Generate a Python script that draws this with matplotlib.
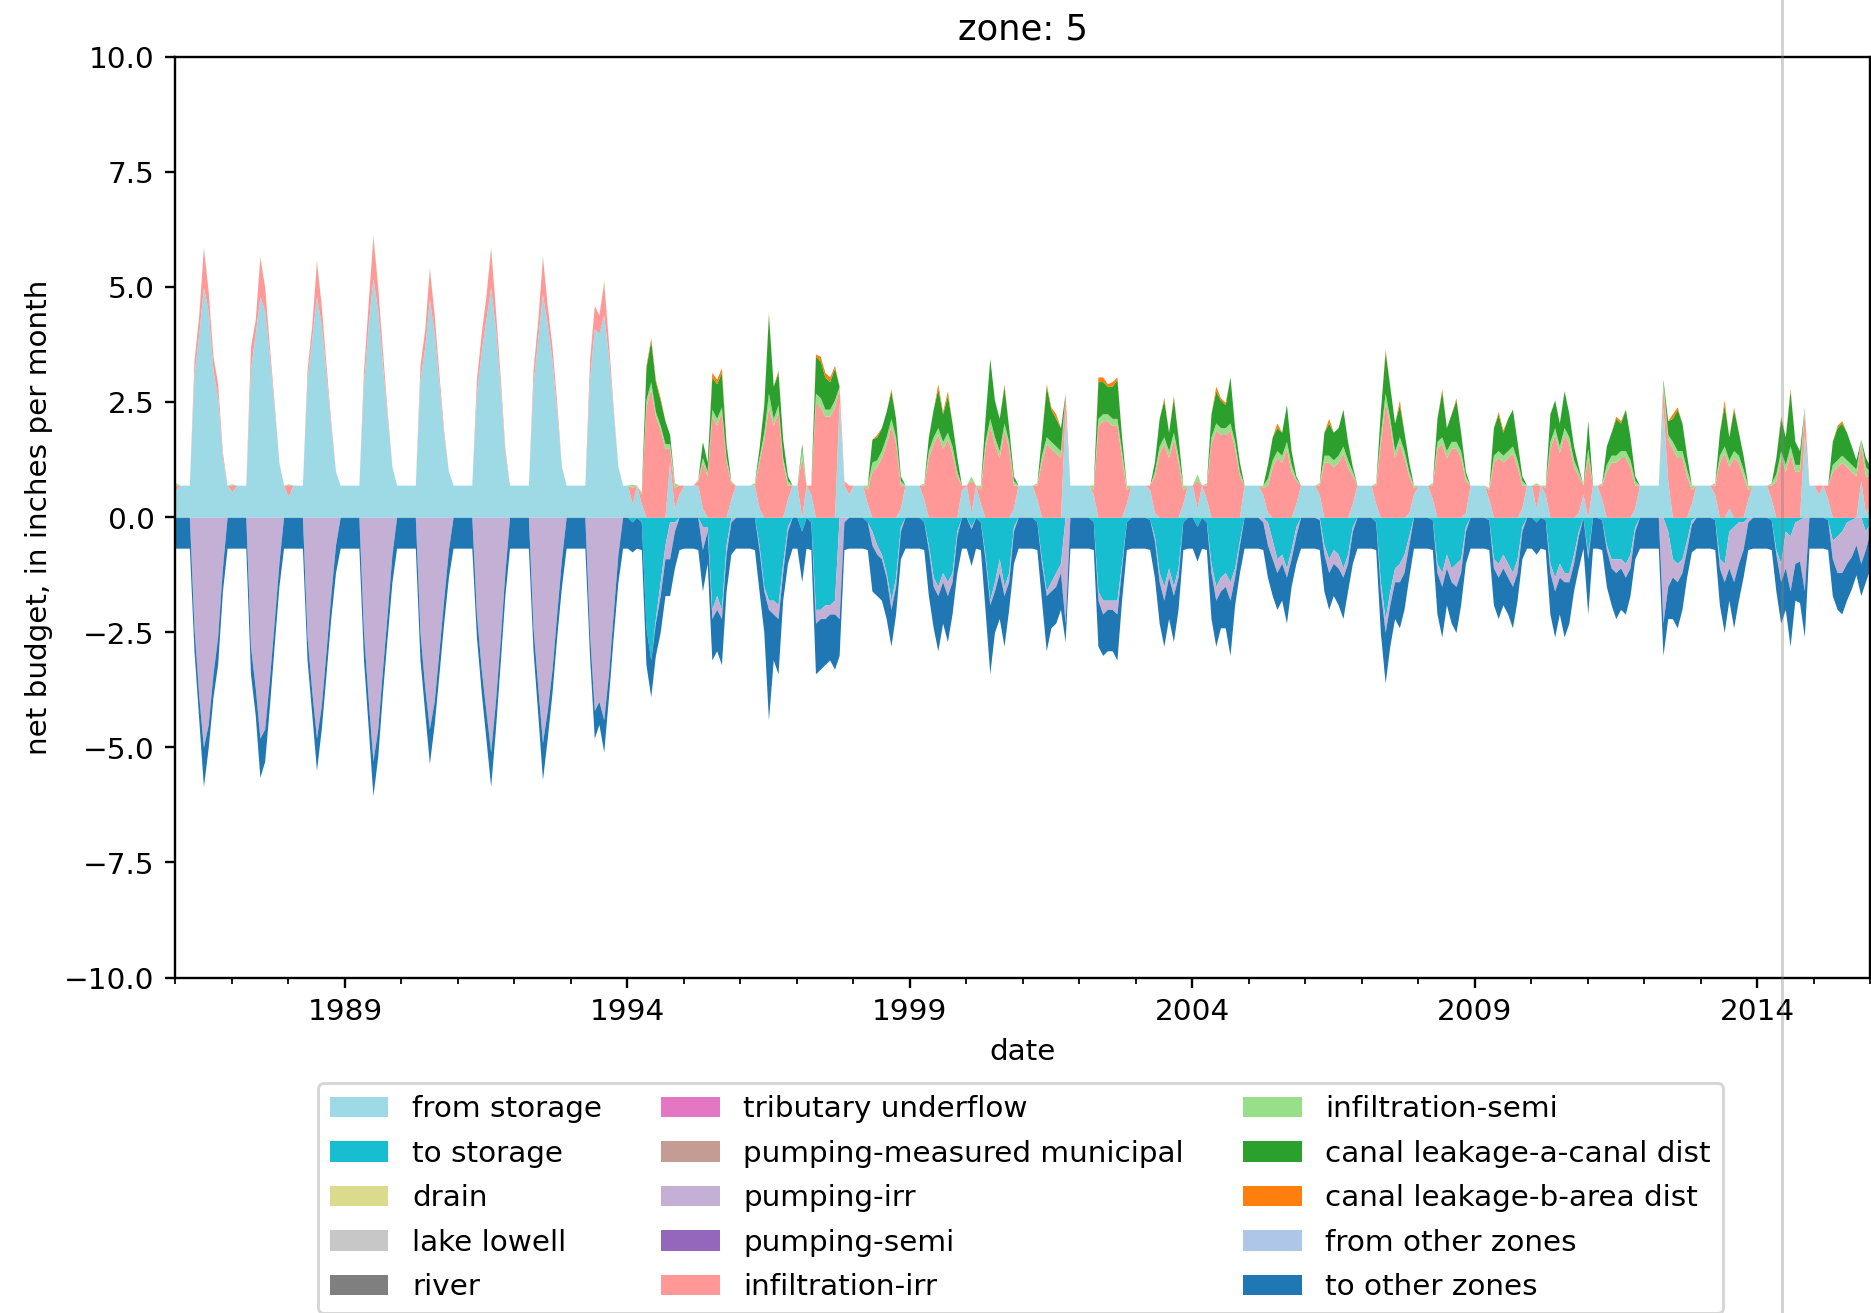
import matplotlib
matplotlib.use("Agg")
import matplotlib.pyplot as plt
import matplotlib.dates as mdates
from matplotlib.lines import Line2D
import numpy as np
import pandas as pd

# zone 5 monthly budget terms, inches per month
# one row per year, Jan-Dec, 1986-2015, plus Jan 2016
from_storage = [
    [0.6, 0.7, 0.7, 0.7, 3.1, 4.0, 5.0, 4.5, 3.2, 2.6, 1.3, 0.7],
    [0.55, 0.7, 0.7, 0.7, 3.2, 4.0, 4.8, 4.5, 3.5, 2.4, 1.2, 0.7],
    [0.45, 0.7, 0.7, 0.7, 3.0, 3.9, 4.8, 4.2, 3.1, 2.0, 1.0, 0.7],
    [0.7, 0.7, 0.7, 0.7, 2.9, 4.2, 5.2, 4.5, 3.3, 2.2, 1.1, 0.7],
    [0.7, 0.7, 0.7, 0.7, 3.0, 3.7, 4.75, 4.0, 2.9, 1.8, 1.0, 0.7],
    [0.7, 0.7, 0.7, 0.7, 2.7, 3.6, 4.3, 5.0, 4.1, 2.9, 1.4, 0.7],
    [0.7, 0.7, 0.7, 0.7, 2.9, 3.9, 4.85, 4.2, 3.4, 2.3, 1.1, 0.7],
    [0.7, 0.7, 0.7, 0.7, 3.0, 4.1, 4.0, 4.4, 3.5, 2.3, 1.1, 0.7],
    [0.7, 0.3, 0.7, 0.3, 0, 0, 0, 0, 0, 1.2, 0.2, 0.5],
    [0.7, 0.7, 0.7, 0.7, 0.2, 0, 0, 0, 0, 0, 0.4, 0.7],
    [0.7, 0.7, 0.7, 0.7, 0.2, 0, 0, 0, 0, 0, 0.4, 0.7],
    [0.7, 0, 0.7, 0.5, 0, 0, 0, 0, 0, 2.5, 0.7, 0.5],
    [0.7, 0.7, 0.7, 0.3, 0, 0, 0, 0, 0, 0, 0.2, 0.7],
    [0.7, 0.7, 0.7, 0.4, 0, 0, 0, 0, 0, 0, 0, 0.6],
    [0.7, 0.1, 0.7, 0.3, 0, 0, 0, 0, 0, 0, 0.2, 0.7],
    [0.7, 0.7, 0.7, 0.4, 0, 0, 0, 0, 0, 2.3, 0.7, 0.7],
    [0.7, 0.7, 0.7, 0.5, 0, 0, 0, 0, 0, 0, 0.3, 0.7],
    [0.7, 0.7, 0.7, 0.6, 0.1, 0, 0, 0, 0, 0, 0.3, 0.7],
    [0.7, 0.2, 0.7, 0.4, 0, 0, 0, 0, 0, 0, 0, 0.7],
    [0.7, 0.7, 0.7, 0.5, 0.1, 0, 0, 0, 0, 0, 0.3, 0.7],
    [0.7, 0.7, 0.7, 0.5, 0, 0, 0, 0, 0, 0, 0.3, 0.7],
    [0.7, 0.7, 0.7, 0.3, 0, 0, 0, 0, 0, 0, 0.1, 0.5],
    [0.7, 0.7, 0.7, 0.4, 0, 0, 0, 0, 0, 0, 0.1, 0.7],
    [0.7, 0.7, 0.7, 0.4, 0, 0, 0, 0, 0, 0, 0.2, 0.7],
    [0.7, 0.2, 0.7, 0.5, 0, 0, 0, 0, 0, 0, 0.1, 0.5],
    [0, 0.7, 0.7, 0.4, 0, 0, 0, 0, 0, 0, 0.2, 0.7],
    [0.7, 0.7, 0.7, 0.7, 2.4, 0.8, 0, 0, 0, 0, 0.3, 0.7],
    [0.7, 0.7, 0.7, 0.5, 0, 0, 0.2, 0, 0, 0, 0.4, 0.7],
    [0.7, 0.7, 0.7, 0.4, 0, 0, 0, 0, 0, 0, 1.8, 0.7],
    [0.7, 0.5, 0.7, 0.4, 0, 0, 0, 0, 0, 0, 0.8, 0.1],
    [0.3],
]

infiltration_irr = [
    [0.1, 0, 0, 0, 0.3, 0.4, 0.85, 0.4, 0.3, 0.3, 0.1, 0],
    [0.15, 0, 0, 0, 0.5, 0.3, 0.85, 0.5, 0.2, 0.1, 0, 0],
    [0.25, 0, 0, 0, 0.2, 0.3, 0.75, 0.4, 0.2, 0.1, 0, 0],
    [0, 0, 0, 0, 0.3, 0.5, 0.9, 0.5, 0.3, 0.1, 0, 0],
    [0, 0, 0, 0, 0.3, 0.4, 0.65, 0.4, 0.2, 0.1, 0, 0],
    [0, 0, 0, 0, 0.3, 0.4, 0.5, 0.85, 0.4, 0.2, 0.1, 0],
    [0, 0, 0, 0, 0.3, 0.4, 0.8, 0.4, 0.3, 0.2, 0, 0],
    [0, 0, 0, 0, 0.4, 0.5, 0.4, 0.7, 0.3, 0.1, 0, 0],
    [0, 0.35, 0, 0.2, 2.4, 2.8, 2.2, 1.9, 1.5, 0.3, 0.45, 0.2],
    [0, 0, 0, 0.1, 1.0, 0.9, 2.2, 2.0, 2.3, 1.2, 0.35, 0],
    [0, 0, 0, 0, 1.0, 1.7, 2.4, 2.0, 2.3, 1.2, 0.3, 0],
    [0, 1.3, 0, 0.2, 2.5, 2.4, 2.2, 2.2, 2.4, 0.3, 0.1, 0.2],
    [0, 0, 0, 0.3, 1.0, 1.1, 1.3, 1.6, 2.0, 1.6, 0.5, 0],
    [0, 0, 0, 0.3, 1.3, 1.6, 1.8, 1.5, 1.7, 1.4, 0.9, 0.1],
    [0, 0.7, 0, 0.3, 1.5, 2.0, 1.6, 1.3, 1.9, 1.5, 0.5, 0],
    [0, 0, 0, 0.3, 1.2, 1.6, 1.5, 1.4, 1.3, 0.4, 0, 0],
    [0, 0, 0, 0.1, 2.0, 2.1, 2.1, 2.0, 2.0, 1.3, 0.3, 0],
    [0, 0, 0, 0.1, 0.8, 1.4, 1.6, 1.3, 1.7, 1.2, 0.3, 0],
    [0, 0.6, 0, 0.3, 1.6, 1.9, 1.8, 1.8, 1.9, 1.5, 0.9, 0],
    [0, 0, 0, 0.15, 0.6, 1.1, 1.3, 1.2, 1.5, 1.0, 0.5, 0],
    [0, 0, 0, 0.2, 1.2, 1.2, 1.1, 1.2, 1.4, 1.1, 0.6, 0],
    [0, 0, 0, 0.4, 1.6, 2.5, 2.0, 1.3, 1.6, 1.3, 0.8, 0.15],
    [0, 0, 0, 0.3, 1.5, 1.6, 1.3, 1.5, 1.5, 1.3, 0.7, 0],
    [0, 0, 0, 0.2, 1.2, 1.3, 1.2, 1.3, 1.4, 1.1, 0.5, 0],
    [0, 0.5, 0, 0.15, 1.5, 1.8, 1.4, 1.8, 1.6, 1.1, 0.8, 0.2],
    [1.3, 0, 0, 0.3, 1.0, 1.2, 1.2, 1.3, 1.3, 1.1, 0.5, 0],
    [0, 0, 0, 0, 0.4, 0.9, 1.5, 1.3, 1.3, 0.9, 0.3, 0],
    [0, 0, 0, 0.2, 1.2, 1.4, 0.9, 1.3, 1.2, 0.9, 0.2, 0],
    [0, 0, 0, 0.3, 0.8, 1.3, 1.0, 1.4, 1.0, 1.0, 0.5, 0],
    [0, 0.2, 0, 0.3, 1.0, 1.1, 1.2, 1.1, 1.0, 0.9, 0.8, 0.8],
    [0.6],
]

infiltration_semi = [
    [0.05, 0, 0, 0, 0, 0, 0.03, 0, 0, 0, 0, 0],
    [0.03, 0, 0, 0, 0, 0, 0.03, 0, 0, 0, 0, 0],
    [0.03, 0, 0, 0, 0, 0, 0.05, 0, 0, 0, 0, 0],
    [0, 0, 0, 0, 0, 0, 0.03, 0, 0, 0, 0, 0],
    [0, 0, 0, 0, 0, 0, 0.05, 0, 0, 0, 0, 0],
    [0, 0, 0, 0, 0, 0, 0, 0.03, 0, 0, 0, 0],
    [0, 0, 0, 0, 0, 0, 0.03, 0, 0, 0, 0, 0],
    [0, 0, 0, 0, 0, 0, 0, 0.05, 0, 0, 0, 0],
    [0, 0.07, 0, 0.05, 0.15, 0.15, 0.1, 0.1, 0.1, 0.1, 0.1, 0],
    [0, 0, 0, 0.03, 0.1, 0.1, 0.15, 0.15, 0.1, 0.1, 0.05, 0],
    [0, 0, 0, 0.05, 0.1, 0.15, 0.3, 0.15, 0.15, 0.1, 0.1, 0],
    [0, 0.2, 0, 0, 0.2, 0.2, 0.15, 0.15, 0.15, 0.05, 0, 0],
    [0, 0, 0, 0.1, 0.2, 0.15, 0.15, 0.15, 0.15, 0.15, 0.1, 0],
    [0, 0, 0, 0.05, 0.15, 0.15, 0.15, 0.15, 0.15, 0.15, 0.1, 0],
    [0, 0.1, 0, 0.1, 0.15, 0.15, 0.15, 0.15, 0.15, 0.15, 0.1, 0],
    [0, 0, 0, 0.05, 0.15, 0.15, 0.15, 0.15, 0.15, 0, 0, 0],
    [0, 0, 0, 0.1, 0.15, 0.15, 0.15, 0.15, 0.15, 0.15, 0.1, 0],
    [0, 0, 0, 0, 0.1, 0.15, 0.15, 0.15, 0.15, 0.15, 0.1, 0],
    [0, 0.15, 0, 0.05, 0.15, 0.15, 0.15, 0.15, 0.15, 0.15, 0.1, 0],
    [0, 0, 0, 0.05, 0.15, 0.15, 0.15, 0.15, 0.15, 0.15, 0.05, 0],
    [0, 0, 0, 0.05, 0.15, 0.15, 0.15, 0.15, 0.15, 0.15, 0.1, 0],
    [0, 0, 0, 0.05, 0.2, 0.2, 0.15, 0.15, 0.15, 0.15, 0.1, 0.05],
    [0, 0, 0, 0.05, 0.15, 0.15, 0.15, 0.15, 0.15, 0.15, 0.1, 0],
    [0, 0, 0, 0.05, 0.15, 0.15, 0.15, 0.15, 0.15, 0.15, 0.1, 0],
    [0, 0.05, 0, 0.05, 0.15, 0.15, 0.15, 0.15, 0.15, 0.15, 0.1, 0],
    [0.2, 0, 0, 0.05, 0.15, 0.15, 0.15, 0.15, 0.15, 0.15, 0.1, 0],
    [0, 0, 0, 0, 0.15, 0.1, 0.15, 0.15, 0.15, 0.15, 0.1, 0],
    [0, 0, 0, 0.05, 0.15, 0.15, 0.15, 0.15, 0.15, 0.15, 0.1, 0],
    [0, 0, 0, 0.05, 0.15, 0.15, 0.15, 0.15, 0.15, 0.15, 0.1, 0],
    [0, 0, 0, 0, 0.15, 0.15, 0.15, 0.15, 0.15, 0.15, 0.1, 0.2],
    [0.1],
]

canal_leakage_a = [
    [0] * 12, [0] * 12, [0] * 12, [0] * 12,
    [0] * 12, [0] * 12, [0] * 12, [0] * 12,
    [0, 0, 0, 0, 0.7, 0.9, 0.65, 0.55, 0.5, 0.2, 0, 0],
    [0, 0, 0, 0, 0.35, 0.2, 0.7, 0.75, 0.75, 0.3, 0, 0],
    [0, 0, 0, 0, 0.2, 0.6, 1.7, 0.7, 0.7, 0.4, 0.1, 0],
    [0, 0.1, 0, 0, 0.8, 0.8, 0.7, 0.6, 0.7, 0, 0, 0],
    [0, 0, 0, 0, 0.5, 0.5, 0.5, 0.55, 0.6, 0.4, 0.1, 0],
    [0, 0, 0, 0, 0.3, 0.6, 0.85, 0.6, 0.8, 0.5, 0.3, 0],
    [0, 0, 0, 0, 0.5, 1.3, 0.8, 0.7, 0.8, 0.3, 0.1, 0],
    [0, 0, 0, 0, 0.4, 1.1, 0.7, 0.6, 0.5, 0, 0, 0],
    [0, 0, 0, 0, 0.8, 0.7, 0.6, 0.7, 0.85, 0.3, 0, 0],
    [0, 0, 0, 0, 0.2, 0.6, 0.8, 0.4, 0.75, 0.4, 0, 0],
    [0, 0, 0, 0, 0.5, 0.7, 0.6, 0.5, 1.0, 0.3, 0.2, 0],
    [0, 0, 0, 0, 0.3, 0.5, 0.5, 0.5, 0.8, 0.3, 0.05, 0],
    [0, 0, 0, 0, 0.5, 0.7, 0.6, 0.6, 0.8, 0.4, 0.1, 0],
    [0, 0, 0, 0, 0.5, 0.9, 0.7, 0.6, 0.7, 0.4, 0.2, 0],
    [0, 0, 0, 0, 0.5, 1.0, 0.5, 0.6, 0.9, 0.4, 0.1, 0],
    [0, 0, 0, 0, 0.6, 0.8, 0.5, 0.7, 0.8, 0.4, 0.1, 0],
    [0, 0, 0, 0, 0.6, 0.6, 0.5, 0.8, 0.5, 0.3, 0.1, 0],
    [0.6, 0, 0, 0, 0.4, 0.5, 0.8, 0.6, 0.9, 0.5, 0.1, 0],
    [0, 0, 0, 0, 0.05, 0.3, 0.5, 0.9, 0.6, 0.3, 0, 0],
    [0, 0, 0, 0, 0.5, 0.9, 0.5, 0.9, 0.5, 0.3, 0, 0],
    [0, 0, 0, 0, 0.35, 0.7, 0.6, 1.2, 0.5, 0.3, 0, 0],
    [0, 0, 0, 0, 0.5, 0.7, 0.7, 0.6, 0.4, 0.2, 0, 0.2],
    [0.1],
]

canal_leakage_b = [
    [0] * 12, [0] * 12, [0] * 12, [0] * 12,
    [0] * 12, [0] * 12, [0] * 12, [0] * 12,
    [0, 0, 0, 0, 0.05, 0.05, 0.05, 0.05, 0, 0, 0, 0],
    [0, 0, 0, 0, 0, 0, 0.1, 0.1, 0.1, 0, 0, 0],
    [0, 0, 0, 0, 0, 0, 0.05, 0, 0.05, 0, 0, 0],
    [0, 0, 0, 0, 0.05, 0.1, 0.1, 0.1, 0.05, 0, 0, 0],
    [0, 0, 0, 0, 0, 0.05, 0, 0, 0.05, 0, 0, 0],
    [0, 0, 0, 0, 0, 0, 0.1, 0.05, 0.1, 0, 0, 0],
    [0, 0, 0, 0, 0, 0, 0, 0, 0.05, 0, 0, 0],
    [0, 0, 0, 0, 0, 0.05, 0.05, 0.1, 0, 0, 0, 0],
    [0, 0, 0, 0, 0.1, 0.1, 0.05, 0.1, 0.05, 0, 0, 0],
    [0, 0, 0, 0, 0, 0, 0.05, 0, 0.05, 0, 0, 0],
    [0, 0, 0, 0, 0, 0.1, 0.05, 0.05, 0, 0, 0, 0],
    [0, 0, 0, 0, 0, 0, 0.1, 0, 0, 0, 0, 0],
    [0, 0, 0, 0, 0, 0.1, 0, 0, 0, 0, 0, 0],
    [0, 0, 0, 0, 0, 0.05, 0, 0, 0.1, 0, 0, 0],
    [0, 0, 0, 0, 0, 0.05, 0, 0, 0.05, 0, 0, 0],
    [0, 0, 0, 0, 0, 0.05, 0.05, 0, 0, 0, 0, 0],
    [0] * 12,
    [0, 0, 0, 0, 0, 0, 0.05, 0.05, 0, 0, 0, 0],
    [0, 0, 0, 0, 0, 0, 0.1, 0.05, 0, 0, 0, 0],
    [0, 0, 0, 0, 0, 0.1, 0, 0.05, 0, 0, 0, 0],
    [0, 0, 0, 0, 0, 0.05, 0, 0.05, 0, 0, 0, 0],
    [0, 0, 0, 0, 0, 0.05, 0.05, 0, 0, 0, 0, 0],
    [0],
]

to_storage = [
    [0] * 12, [0] * 12, [0] * 12, [0] * 12,
    [0] * 12, [0] * 12, [0] * 12, [0] * 12,
    [0, -0.1, 0, -0.1, -2.4, -3.1, -2.2, -1.4, -0.6, -0.1, -0.1, 0],
    [0, 0, 0, 0, -0.2, -0.2, -2.0, -1.7, -2.0, -0.6, 0, 0],
    [0, 0, 0, 0, -0.6, -1.5, -1.8, -1.8, -1.9, -1.0, -0.2, 0],
    [0, -0.3, 0, -0.1, -2.0, -2.0, -1.9, -1.9, -1.8, 0, 0, 0],
    [0, 0, 0, -0.1, -0.3, -0.6, -0.8, -1.2, -1.8, -1.3, -0.2, 0],
    [0, 0, 0, -0.1, -0.6, -1.3, -1.5, -1.2, -1.4, -1.2, -0.3, 0],
    [0, -0.2, 0, -0.1, -0.8, -1.8, -1.4, -0.9, -1.5, -1.2, -0.2, 0],
    [0, 0, 0, -0.1, -0.9, -1.6, -1.4, -1.2, -1.0, 0, 0, 0],
    [0, 0, 0, -0.1, -1.6, -1.8, -1.8, -1.8, -1.8, -1.0, -0.1, 0],
    [0, 0, 0, -0.05, -0.4, -1.2, -1.5, -1.1, -1.5, -1.1, -0.1, 0],
    [0, -0.2, 0, -0.1, -1.0, -1.5, -1.3, -1.2, -1.4, -1.1, -0.5, 0],
    [0, 0, 0, 0, -0.1, -0.5, -0.9, -0.8, -1.1, -0.7, -0.2, 0],
    [0, 0, 0, 0, -0.6, -0.9, -0.7, -0.8, -1.1, -0.8, -0.2, 0],
    [0, 0, 0, -0.1, -1.4, -2.2, -1.6, -1.1, -1.0, -0.8, -0.4, 0],
    [0, 0, 0, -0.05, -1.0, -1.2, -0.8, -1.1, -1.0, -0.9, -0.2, 0],
    [0, 0, 0, -0.05, -0.9, -1.0, -0.8, -1.0, -1.2, -0.9, -0.2, 0],
    [0, -0.1, 0, -0.05, -1.0, -1.3, -1.0, -1.2, -1.2, -0.8, -0.3, 0],
    [-0.8, 0, 0, -0.05, -0.6, -0.9, -0.9, -0.9, -1.0, -0.8, -0.2, 0],
    [0, 0, 0, 0, 0, -0.3, -0.9, -1.0, -0.9, -0.5, -0.05, 0],
    [0, 0, 0, -0.05, -0.9, -1.0, -0.3, -0.2, -0.1, -0.1, 0, 0],
    [0, 0, 0, -0.05, -0.7, -1.0, -0.3, -0.4, -0.1, -0.05, 0, 0],
    [0, 0, 0, -0.05, -0.5, -0.4, -0.3, -0.1, -0.05, 0, 0, -0.3],
    [-0.1],
]

pumping_irr = [
    [0, 0, 0, 0, -2.4, -3.9, -5.0, -4.5, -3.4, -2.6, -1.1, 0],
    [0, 0, 0, 0, -2.8, -3.7, -4.8, -4.6, -3.5, -2.3, -1.0, 0],
    [0, 0, 0, 0, -2.6, -3.8, -4.8, -4.1, -2.9, -1.7, -0.6, 0],
    [0, 0, 0, 0, -2.5, -4.0, -5.3, -4.6, -3.3, -2.1, -0.8, 0],
    [0, 0, 0, 0, -2.5, -3.7, -4.6, -4.0, -2.9, -1.8, -0.7, 0],
    [0, 0, 0, 0, -2.1, -3.3, -4.2, -5.1, -4.0, -2.7, -1.2, 0],
    [0, 0, 0, 0, -2.4, -3.7, -4.9, -4.2, -3.3, -2.1, -0.9, 0],
    [0, 0, 0, 0, -2.5, -4.2, -4.0, -4.4, -3.4, -2.1, -0.8, 0],
    [0, 0, 0, 0, 0, 0, -0.1, -0.3, -0.3, -0.8, -0.2, 0],
    [0, 0, 0, 0, -0.5, -0.1, -0.2, -0.3, -0.2, -0.2, -0.1, 0],
    [0, 0, 0, 0, -0.1, -0.1, -0.2, -0.3, -0.3, -0.2, -0.1, 0],
    [0, 0, 0, 0, -0.3, -0.2, -0.3, -0.2, -0.3, -2.2, -0.1, 0],
    [0, 0, 0, 0, -0.3, -0.2, -0.1, -0.1, -0.2, -0.2, -0.1, 0],
    [0, 0, 0, 0, -0.1, -0.2, -0.2, -0.2, -0.3, -0.2, -0.1, 0],
    [0, -0.05, 0, 0, -0.1, -0.1, -0.2, -0.3, -0.2, -0.2, -0.1, 0],
    [0, 0, 0, 0, -0.1, -0.1, -0.2, -0.3, -0.2, -2.3, 0, 0],
    [0, 0, 0, 0, -0.2, -0.3, -0.2, -0.2, -0.3, -0.1, 0, 0],
    [0, 0, 0, 0, -0.1, -0.2, -0.3, -0.2, -0.2, -0.2, 0, 0],
    [0, 0, 0, 0, -0.2, -0.3, -0.3, -0.3, -0.4, -0.2, -0.1, 0],
    [0, 0, 0, -0.1, -0.5, -0.4, -0.3, -0.2, -0.2, -0.2, -0.2, 0],
    [0, 0, 0, -0.05, -0.2, -0.3, -0.3, -0.3, -0.2, -0.2, -0.1, 0],
    [0, 0, 0, 0, -0.2, -0.3, -0.3, -0.3, -0.4, -0.4, -0.2, 0],
    [0, 0, 0, 0, -0.2, -0.3, -0.3, -0.3, -0.5, -0.3, -0.1, 0],
    [0, 0, 0, 0, -0.2, -0.3, -0.3, -0.3, -0.3, -0.3, -0.1, 0],
    [0, 0, 0, 0, -0.2, -0.3, -0.3, -0.2, -0.2, -0.2, -0.1, 0],
    [-0.1, 0, 0, 0, -0.1, -0.2, -0.3, -0.2, -0.3, -0.3, -0.1, 0],
    [0, 0, 0, 0, -2.3, -1.2, -0.4, -0.4, -0.3, -0.2, -0.1, 0],
    [0, 0, 0, 0, -0.2, -0.4, -0.8, -1.2, -0.9, -0.6, -0.1, 0],
    [0, 0, 0, 0, -0.1, -0.4, -0.8, -1.2, -0.9, -0.9, -1.6, 0],
    [0, 0, 0, 0, -0.4, -0.8, -0.9, -0.9, -0.8, -0.6, -1.0, -0.4],
    [-0.2],
]

to_other_zones = [
    [-0.67, -0.67, -0.67, -0.67, -0.5, -0.5, -0.85, -0.5, -0.5, -0.6, -0.5, -0.67],
    [-0.67, -0.67, -0.67, -0.67, -0.6, -0.6, -0.85, -0.7, -0.6, -0.5, -0.5, -0.67],
    [-0.67, -0.67, -0.67, -0.67, -0.5, -0.5, -0.7, -0.5, -0.5, -0.5, -0.6, -0.67],
    [-0.67, -0.67, -0.67, -0.67, -0.6, -0.6, -0.75, -0.6, -0.5, -0.5, -0.6, -0.67],
    [-0.67, -0.67, -0.67, -0.67, -0.6, -0.55, -0.75, -0.5, -0.5, -0.5, -0.6, -0.67],
    [-0.67, -0.67, -0.67, -0.67, -0.5, -0.5, -0.6, -0.75, -0.6, -0.5, -0.5, -0.67],
    [-0.67, -0.67, -0.67, -0.67, -0.5, -0.6, -0.8, -0.6, -0.5, -0.5, -0.6, -0.67],
    [-0.67, -0.67, -0.67, -0.67, -0.5, -0.6, -0.5, -0.7, -0.5, -0.5, -0.6, -0.67],
    [-0.67, -0.65, -0.67, -0.6, -0.8, -0.8, -0.7, -0.8, -0.8, -0.8, -0.8, -0.7],
    [-0.67, -0.67, -0.67, -0.7, -0.9, -0.7, -0.9, -0.9, -1.0, -0.8, -0.7, -0.67],
    [-0.67, -0.67, -0.67, -0.7, -0.9, -0.9, -2.4, -1.0, -1.2, -0.6, -0.7, -0.67],
    [-0.67, -1.1, -0.67, -0.6, -1.1, -1.1, -1.0, -1.0, -1.2, -0.8, -0.6, -0.67],
    [-0.67, -0.67, -0.67, -0.6, -1.0, -0.9, -0.9, -0.9, -0.8, -0.6, -0.6, -0.67],
    [-0.67, -0.67, -0.67, -0.6, -1.0, -0.9, -1.2, -0.9, -1.0, -0.7, -0.8, -0.67],
    [-0.67, -0.8, -0.67, -0.6, -1.1, -1.5, -0.9, -1.0, -1.1, -0.6, -0.7, -0.67],
    [-0.67, -0.67, -0.67, -0.6, -0.8, -1.2, -0.8, -0.8, -0.8, -0.4, -0.67, -0.67],
    [-0.67, -0.67, -0.67, -0.6, -1.0, -0.9, -0.9, -0.9, -1.0, -0.7, -0.6, -0.67],
    [-0.67, -0.67, -0.67, -0.65, -0.8, -0.9, -1.0, -0.9, -1.0, -0.7, -0.6, -0.67],
    [-0.67, -0.75, -0.67, -0.6, -1.0, -1.0, -0.8, -0.9, -1.2, -0.6, -0.6, -0.67],
    [-0.67, -0.67, -0.67, -0.6, -0.7, -0.8, -0.8, -0.8, -1.0, -0.6, -0.6, -0.67],
    [-0.67, -0.67, -0.67, -0.65, -0.8, -0.8, -0.7, -0.8, -0.9, -0.6, -0.7, -0.67],
    [-0.67, -0.67, -0.67, -0.6, -0.9, -1.1, -0.9, -0.8, -1.0, -0.8, -0.7, -0.67],
    [-0.67, -0.67, -0.67, -0.65, -0.9, -1.1, -0.8, -0.9, -1.0, -0.7, -0.7, -0.67],
    [-0.67, -0.67, -0.67, -0.65, -0.8, -0.9, -0.8, -0.8, -0.9, -0.6, -0.6, -0.67],
    [-0.67, -0.7, -0.67, -0.65, -0.9, -1.0, -0.8, -1.2, -0.9, -0.6, -0.7, -0.67],
    [-1.2, -0.67, -0.67, -0.65, -0.8, -0.8, -1.0, -0.9, -0.8, -0.6, -0.6, -0.67],
    [-0.67, -0.67, -0.67, -0.67, -0.7, -0.7, -0.9, -1.0, -0.8, -0.6, -0.6, -0.67],
    [-0.67, -0.67, -0.67, -0.65, -0.8, -1.1, -0.7, -1.0, -0.8, -0.6, -0.6, -0.67],
    [-0.67, -0.67, -0.67, -0.65, -0.8, -0.9, -0.9, -1.2, -0.8, -0.9, -1.0, -0.67],
    [-0.67, -0.67, -0.67, -0.65, -0.8, -0.8, -0.9, -0.8, -0.7, -0.65, -0.7, -0.7],
    [-0.8],
]

labels = [
    "from storage", "to storage", "drain", "lake lowell", "river",
    "tributary underflow", "pumping-measured municipal", "pumping-irr",
    "pumping-semi", "infiltration-irr", "infiltration-semi",
    "canal leakage-a-canal dist", "canal leakage-b-area dist",
    "from other zones", "to other zones",
]
colors = [
    "#9edae5", "#17becf", "#dbdb8d", "#c7c7c7", "#7f7f7f",
    "#e377c2", "#c49c94", "#c5b0d5", "#9467bd", "#ff9896",
    "#98df8a", "#2ca02c", "#ff7f0e", "#aec7e8", "#1f77b4",
]


def flat(rows):
    return np.concatenate([np.asarray(r, dtype=float) for r in rows])


dates = pd.date_range("1986-01-01", "2016-01-01", freq="MS")
n = len(dates)
none = np.zeros(n)  # terms with no flow in this zone

columns = [
    flat(from_storage), flat(to_storage), none, none, none,
    none, none, flat(pumping_irr), none, flat(infiltration_irr),
    flat(infiltration_semi), flat(canal_leakage_a), flat(canal_leakage_b),
    none, flat(to_other_zones),
]

W, H, DPI = 1871, 1313, 212
fig = plt.figure(figsize=((W + 0.2) / DPI, (H + 0.2) / DPI), dpi=DPI)
ax = fig.add_axes([175.4 / W, 1 - 977.6 / H, (1870 - 175.4) / W, (977.6 - 57.3) / H])

# stack inflows upward and outflows downward from zero
pos = np.zeros(n)
neg = np.zeros(n)
for lab, col, vals in zip(labels, colors, columns):
    if (vals <= 0).all() and (vals < 0).any():
        lo, hi = neg + vals, neg.copy()
        neg = lo
    else:
        lo, hi = pos.copy(), pos + vals
        pos = hi
    ax.fill_between(dates, lo, hi, color=col, linewidth=0, label=lab)

ax.set_xlim(dates[0], dates[-1])
ax.set_ylim(-10, 10)
ax.set_yticks(np.arange(-10, 10.1, 2.5))

major_years = pd.to_datetime([f"{y}-01-01" for y in range(1989, 2015, 5)])
ax.xaxis.set_major_locator(matplotlib.ticker.FixedLocator(mdates.date2num(major_years)))
ax.xaxis.set_major_formatter(mdates.DateFormatter("%Y"))
ax.xaxis.set_minor_locator(mdates.YearLocator(1))

ax.set_title("zone: 5")
ax.set_xlabel("date")
ax.set_ylabel("net budget, in inches per month")

ax.legend(loc="upper center", bbox_to_anchor=(0.4985, (977.6 - 1083.5) / 920.3),
          ncol=3, borderaxespad=0, labelspacing=0.56)

# thin divider running down the right side of the page
fig.add_artist(Line2D([1782 / W, 1782 / W], [0, 1], transform=fig.transFigure,
                      color="gray", alpha=0.35, linewidth=1.0, zorder=10))

fig.savefig("out.png", dpi=DPI)
